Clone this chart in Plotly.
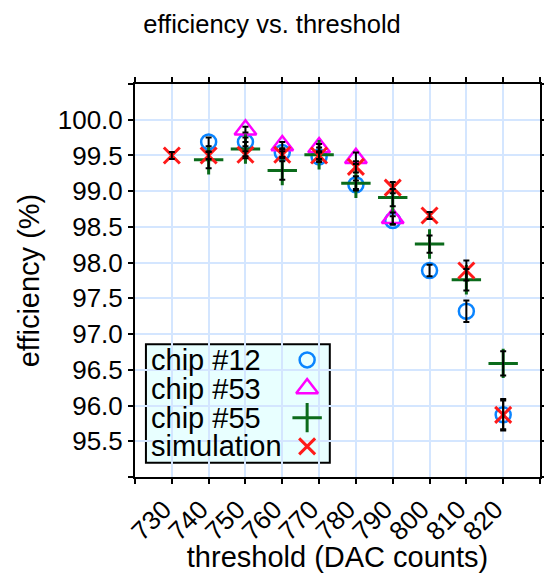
import plotly.graph_objects as go

# ---- data ----
chip12_x = [740, 750, 760, 770, 780, 790, 800, 810, 820]
chip12_y = [99.69, 99.69, 99.54, 99.48, 99.09, 98.59, 97.89, 97.32, 95.87]
chip12_e = [0.06, 0.06, 0.06, 0.06, 0.06, 0.06, 0.08, 0.15, 0.20]

chip53_x = [750, 760, 770, 780, 790]
chip53_y = [99.86, 99.64, 99.61, 99.46, 98.62]
chip53_e = [0.04, 0.05, 0.05, 0.08, 0.08]

chip55_x = [740, 750, 760, 770, 780, 790, 800, 810, 820]
chip55_y = [99.44, 99.59, 99.29, 99.51, 99.11, 98.91, 98.26, 97.76, 96.59]
chip55_e = [0.12, 0.10, 0.13, 0.10, 0.10, 0.12, 0.12, 0.15, 0.17]

sim_x = [730, 740, 750, 760, 770, 780, 790, 800, 810, 820]
sim_y = [99.50, 99.50, 99.51, 99.51, 99.50, 99.34, 99.05, 98.66, 97.89, 95.87]
sim_e = [0.05, 0.05, 0.05, 0.05, 0.05, 0.08, 0.08, 0.05, 0.14, 0.22]

names = ["chip #12", "chip #53", "chip #55", "simulation"]
x_ticks = list(range(720, 831, 10))
x_ticktext = ["" if v in (720, 830) else str(v) for v in x_ticks]
y_ticks = [95.0 + 0.5 * i for i in range(12)]
y_ticktext = ["" if v in (95.0, 100.5) else f"{v:.1f}" for v in y_ticks]

# ---- styles ----
FONT = "Liberation Sans, Arial, sans-serif"
styles = [
    dict(symbol="circle-open", size=15, color="#0A84FF", line=dict(width=2.5, color="#0A84FF")),
    dict(symbol="triangle-up-open", size=19, color="#FF00FF", line=dict(width=2.5, color="#FF00FF")),
    dict(symbol="cross-thin-open", size=21, color="#0B6B1B", line=dict(width=3, color="#0B6B1B")),
    dict(symbol="x-thin-open", size=16, color="#FF1A1A", line=dict(width=3, color="#FF1A1A")),
]
series = [(chip12_x, chip12_y, chip12_e), (chip53_x, chip53_y, chip53_e),
          (chip55_x, chip55_y, chip55_e), (sim_x, sim_y, sim_e)]

fig = go.Figure()
for (xs, ys, es), st, nm in zip(series, styles, names):
    fig.add_trace(go.Scatter(x=xs, y=ys, mode="markers", name=nm, marker=st,
                             showlegend=False, hoverinfo="x+y"))
# error bars on top
for (xs, ys, es), nm in zip(series, names):
    fig.add_trace(go.Scatter(x=xs, y=ys, mode="markers", name=nm + " err",
                             marker=dict(size=1, color="rgba(0,0,0,0)"),
                             error_y=dict(type="data", array=es, color="black",
                                          thickness=2, width=3),
                             showlegend=False, hoverinfo="skip"))

# ---- custom legend (symbols on the right) ----
leg_x0, leg_x1, leg_y0, leg_y1 = 0.027, 0.481, 0.036, 0.338
row_y = [0.298, 0.225, 0.151, 0.078]
sym_x = 0.425
fig.add_shape(type="rect", xref="paper", yref="paper", x0=leg_x0, x1=leg_x1,
              y0=leg_y0, y1=leg_y1, fillcolor="#E8FFFF",
              line=dict(color="black", width=2), layer="between")
for st, nm, ry in zip(styles, names, row_y):
    fig.add_trace(go.Scatter(x=[sym_x], y=[ry], mode="markers", marker=st,
                             xaxis="x2", yaxis="y2", showlegend=False, hoverinfo="skip"))
    fig.add_annotation(x=0.035, y=ry, xref="paper", yref="paper", text=nm,
                       showarrow=False, xanchor="left", yanchor="middle",
                       font=dict(family=FONT, size=29, color="black"))

axis_common = dict(showline=True, linecolor="black", linewidth=2, mirror="ticks",
                   ticks="outside", ticklen=5, tickwidth=2, tickcolor="black",
                   showgrid=True, gridcolor="#D4E6FF", gridwidth=2, zeroline=False,
                   automargin=False,
                   tickfont=dict(family=FONT, size=26, color="black"))

fig.update_layout(
    width=544, height=573,
    margin=dict(l=135, r=4, t=84, b=96),
    paper_bgcolor="white", plot_bgcolor="white",
    title=dict(text="efficiency vs. threshold", x=0.5, xanchor="center",
               xref="container", y=1 - 24 / 573, yref="container", yanchor="middle",
               font=dict(family=FONT, size=25.5, color="black")),
    xaxis=dict(range=[720, 830], tickvals=x_ticks, ticktext=x_ticktext, tickangle=-45,
               ticklabelshift=-8,
               title=dict(text="threshold (DAC counts)", standoff=10,
                          font=dict(family=FONT, size=29, color="black")),
               **axis_common),
    yaxis=dict(range=[95.0, 100.5], tickvals=y_ticks, ticktext=y_ticktext,
               title=dict(text="efficiency (%)", standoff=10,
                          font=dict(family=FONT, size=29, color="black")),
               **axis_common),
    xaxis2=dict(overlaying="x", range=[0, 1], visible=False, fixedrange=True),
    yaxis2=dict(overlaying="y", range=[0, 1], visible=False, fixedrange=True),
    showlegend=False,
)

fig.write_html("out.html", config={"displayModeBar": False},
               post_script="document.body.style.margin='0';document.body.style.overflow='hidden';")
